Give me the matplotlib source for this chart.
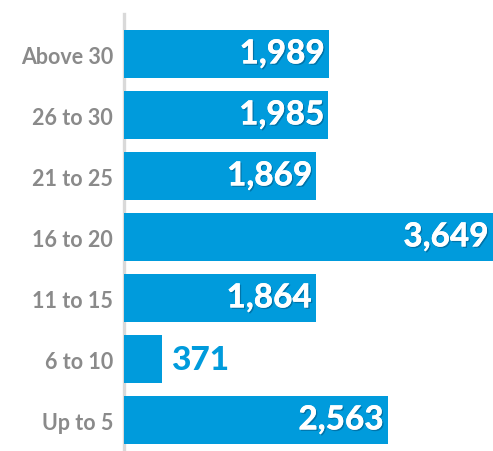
import matplotlib
matplotlib.use('Agg')
import matplotlib.pyplot as plt
import matplotlib.patheffects as pe

# data (bottom to top)
categories = ['Up to 5', '6 to 10', '11 to 15', '16 to 20', '21 to 25', '26 to 30', 'Above 30']
values = [2563, 371, 1864, 3649, 1869, 1985, 1989]

blue = '#009bdc'
grey_txt = '#8a8a8a'

fig = plt.figure(figsize=(4.93, 4.52), dpi=100)
ax = fig.add_axes([124 / 493, 0, 1 - 124 / 493, (452 - 15) / 452])

y = list(range(len(categories)))
ax.barh(y, values, height=0.79, color=blue, zorder=3)

# the longest bar runs off the right edge in the original
xmax = 3583
ax.set_xlim(0, xmax)
ax.set_ylim(-0.508, 6.656)

for s in ['top', 'right', 'bottom']:
    ax.spines[s].set_visible(False)
ax.spines['left'].set_color('#d9d9d9')
ax.spines['left'].set_linewidth(2.4)

ax.set_xticks([])
ax.set_yticks(y)
ax.set_yticklabels(categories, fontsize=15.5, fontweight='bold', color=grey_txt, family='Lato')
ax.tick_params(axis='y', length=0, pad=8)

shadow = [pe.withSimplePatchShadow(offset=(1, -1), shadow_rgbFace='#005b8a', alpha=0.6), pe.Normal()]
for yi, v in zip(y, values):
    txt = f'{v:,}'
    if v < 1000:
        ax.annotate(txt, (v, yi), xytext=(6, 0), textcoords='offset points',
                    ha='left', va='center', fontsize=24, fontweight='black',
                    color=blue, family='Lato', zorder=4)
    else:
        ax.annotate(txt, (min(v, xmax), yi), xytext=(-3, 0), textcoords='offset points',
                    ha='right', va='center', fontsize=24, fontweight='black',
                    color='white', family='Lato', zorder=4, path_effects=shadow)

fig.savefig('out.png', dpi=100)
